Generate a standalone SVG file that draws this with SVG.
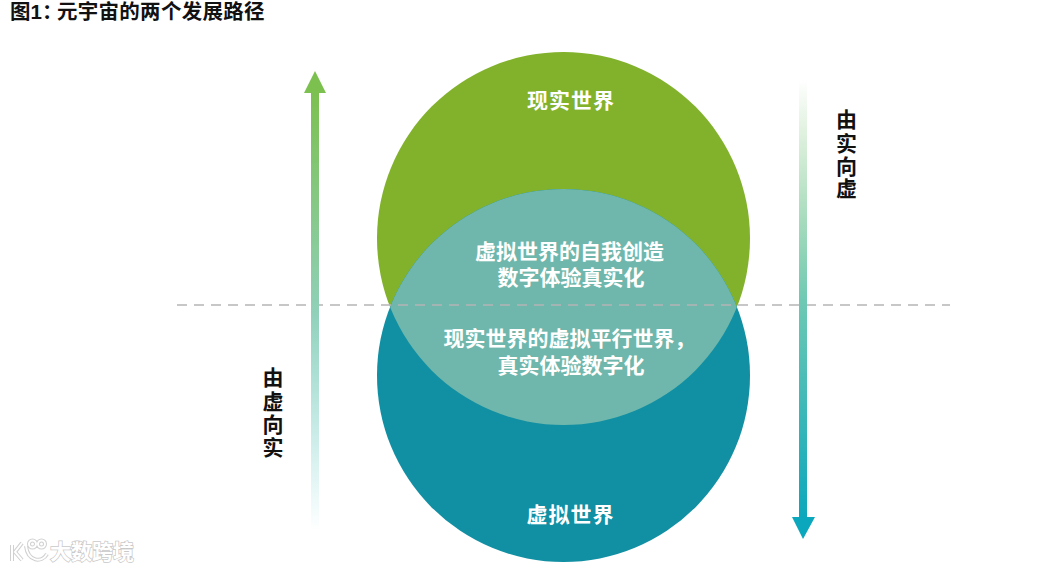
<svg xmlns="http://www.w3.org/2000/svg" width="1042" height="571" viewBox="0 0 1042 571">
<style>
text{font-family:"Liberation Sans","Noto Sans CJK SC",sans-serif;font-weight:700}
.w{fill:#fff;font-size:21px;text-anchor:middle}
.k{fill:#111;font-size:21px;text-anchor:middle}
.wm{fill:#fff;stroke:#c9c9c9;stroke-width:1.500;paint-order:stroke;font-size:21px}
.wl{fill:none;stroke:#fff;stroke-width:2}
.wo{fill:none;stroke:#d0d0d0;stroke-width:4}
</style>
<defs>
<linearGradient id="up" gradientUnits="userSpaceOnUse" x1="0" y1="90" x2="0" y2="530">
<stop offset="0" stop-color="#7cc04f"/><stop offset="0.5" stop-color="#8fd0b8"/><stop offset="1" stop-color="#7fd6d8" stop-opacity="0"/>
</linearGradient>
<linearGradient id="down" gradientUnits="userSpaceOnUse" x1="0" y1="80" x2="0" y2="520">
<stop offset="0" stop-color="#7fc36a" stop-opacity="0"/><stop offset="0.5" stop-color="#6ec9b4"/><stop offset="1" stop-color="#0ba7bc"/>
</linearGradient>
<clipPath id="lens"><circle cx="563.5" cy="238.5" r="186.5"/></clipPath>
<path id="logo" d="M12 545V561M22 543L15 552L22 560M26 546C28 562 42 563 47 554M29 544A3.500 3.500 0 1 0 36 544A3.500 3.500 0 1 0 29 544M38 544A3.500 3.500 0 1 0 45 544A3.500 3.500 0 1 0 38 544"/>
</defs>
<text id="title" x="10" y="19" font-size="20.500px" fill="#111">图1<tspan letter-spacing="-5.500">：</tspan><tspan letter-spacing="0.300">元宇宙的两个发展路径</tspan></text>
<g id="node-real"><circle cx="563.5" cy="238.5" r="186.5" fill="#82b22c"/><text class="w" x="571" y="108" letter-spacing="1">现实世界</text></g>
<g id="node-virtual"><circle cx="563.5" cy="375.5" r="186.5" fill="#118fa3"/><text class="w" x="570.500" y="522" letter-spacing="1">虚拟世界</text></g>
<g id="node-overlap"><circle cx="563.5" cy="375.5" r="186.5" fill="#6fb7ac" clip-path="url(#lens)"/>
<text class="w" x="569.500" y="259">虚拟世界的自我创造</text><text class="w" x="571" y="285">数字体验真实化</text>
<text class="w" x="569.500" y="346">现实世界的虚拟平行世界，</text><text class="w" x="571" y="373">真实体验数字化</text></g>
<g id="connectors">
<line x1="177" y1="305" x2="950" y2="305" stroke="#b5b5b5" stroke-width="1.500" stroke-dasharray="10 7"/>
<path d="M311 530V93H304L315 71L326 93H319V530Z" fill="url(#up)"/>
<path d="M799 80V517H792L803 539L815 517H807V80Z" fill="url(#down)"/>
</g>
<g id="label-up"><text class="k" x="273" y="385">由</text><text class="k" x="273" y="409">虚</text><text class="k" x="273" y="432">向</text><text class="k" x="273" y="455">实</text></g>
<g id="label-down"><text class="k" x="846.500" y="127">由</text><text class="k" x="846.500" y="151">实</text><text class="k" x="846.500" y="174">向</text><text class="k" x="846.500" y="196">虚</text></g>
<g id="watermark">
<use href="#logo" class="wo"/>
<use href="#logo" class="wl"/>
<text class="wm" x="50" y="559">大数跨境</text>
</g>
</svg>
